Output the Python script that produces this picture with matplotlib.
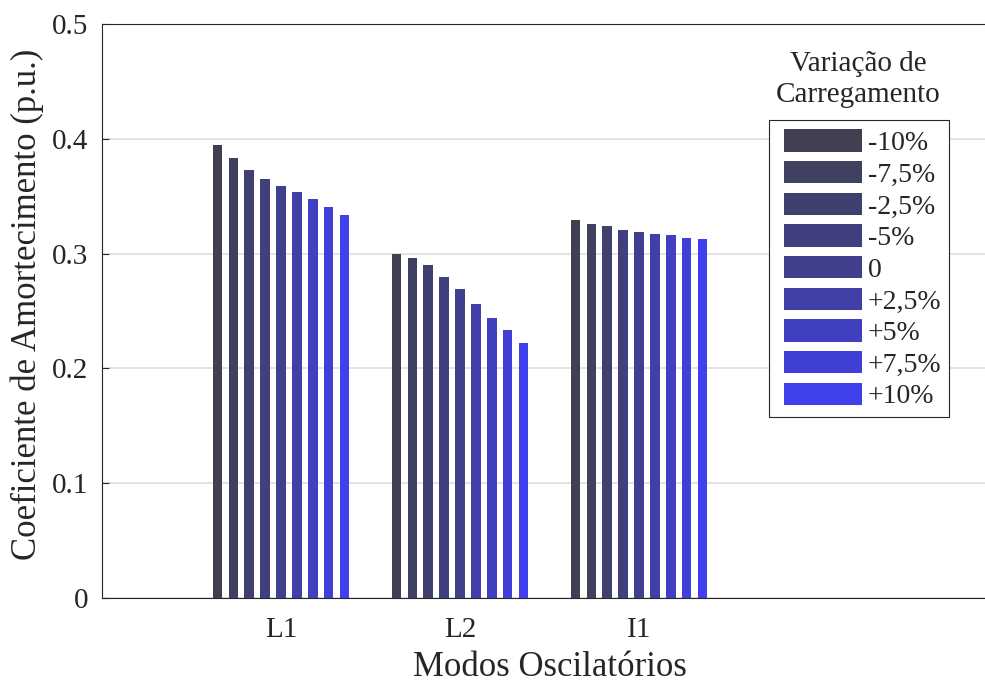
import matplotlib
matplotlib.use("Agg")
import matplotlib.pyplot as plt
import numpy as np
from matplotlib.patches import Patch, Rectangle

plt.rcParams['font.family'] = ['Liberation Serif', 'DejaVu Serif']

modes = ["L1", "L2", "I1"]
series_labels = ["-10%", "-7,5%", "-2,5%", "-5%", "0", "+2,5%", "+5%", "+7,5%", "+10%"]
values_L1 = [0.395, 0.383, 0.373, 0.365, 0.359, 0.354, 0.348, 0.341, 0.334]
values_L2 = [0.300, 0.296, 0.290, 0.280, 0.269, 0.256, 0.244, 0.233, 0.222]
values_I1 = [0.329, 0.326, 0.324, 0.321, 0.319, 0.317, 0.316, 0.314, 0.313]
colors = ["#404052", "#404060", "#40406f", "#40407f", "#40408f",
          "#4040a8", "#4040c0", "#4040d6", "#4040ec"]

data = np.array([values_L1, values_L2, values_I1])  # modes x series

W, H = 985, 683
fig = plt.figure(figsize=(9.85, 6.83), dpi=100)
ax = fig.add_axes([102/W, 1-597.5/H, 895/W, (597.5-24.3)/H])

n = len(series_labels)
step = 0.8 / n
bw = 0.053
x = np.arange(1, len(modes) + 1)
for i in range(n):
    ax.bar(x + (i - (n - 1) / 2) * step, data[:, i], width=bw,
           color=colors[i], edgecolor='none', zorder=3)

ax.set_xlim(0, 5)
ax.set_ylim(0, 0.5)
ax.set_yticks([0, 0.1, 0.2, 0.3, 0.4, 0.5])
ax.set_yticklabels(["0", "0.1", "0.2", "0.3", "0.4", "0.5"])
ax.set_xticks(x)
ax.set_xticklabels(modes)
ax.tick_params(axis='both', direction='in', labelsize=21, color='#262626',
               length=5, width=0.8)
ax.tick_params(axis='y', pad=10)
ax.tick_params(axis='x', pad=14, length=0)
ax.yaxis.grid(True, color='#dedede', linewidth=1.2, zorder=0)
ax.set_axisbelow(True)
for s in ['left', 'bottom', 'top']:
    ax.spines[s].set_color('#262626')
    ax.spines[s].set_linewidth(0.8)
ax.spines['right'].set_visible(False)

ax.set_xlabel("Modos Oscilatórios", fontsize=25, color='#262626', labelpad=6)
ax.set_ylabel("Coeficiente de Amortecimento (p.u.)", fontsize=25,
              color='#262626')
ax.yaxis.set_label_coords(27/W, 1-304/H, transform=fig.transFigure)
ax.yaxis.label.set_verticalalignment('center')
for t in ax.get_xticklabels() + ax.get_yticklabels():
    t.set_color('#262626')

# legend frame drawn as a rectangle
frame = Rectangle((769/W, 1-417/H), (949-769)/W, (417-120)/H,
                  transform=fig.transFigure, facecolor='white',
                  edgecolor='#262626', linewidth=0.8, zorder=4, clip_on=False)
ax.add_patch(frame)

handles = [Patch(facecolor=c, edgecolor='none') for c in colors]
leg = ax.legend(handles, series_labels, loc='upper left',
                bbox_to_anchor=(776/W, 1-121/H),
                bbox_transform=fig.transFigure,
                fontsize=20, frameon=False, handlelength=2.8, handleheight=0.86,
                handletextpad=0.2, labelspacing=0.176, borderpad=0.3,
                borderaxespad=0)
leg.set_zorder(5)
for t in leg.get_texts():
    t.set_color('#262626')

fig.text(858/W, 1-70.7/H, "Variação de", fontsize=21, ha='center',
         va='baseline', color='#262626')
fig.text(858/W, 1-101.7/H, "Carregamento", fontsize=21, ha='center',
         va='baseline', color='#262626')

fig.savefig("out.png", dpi=100)
